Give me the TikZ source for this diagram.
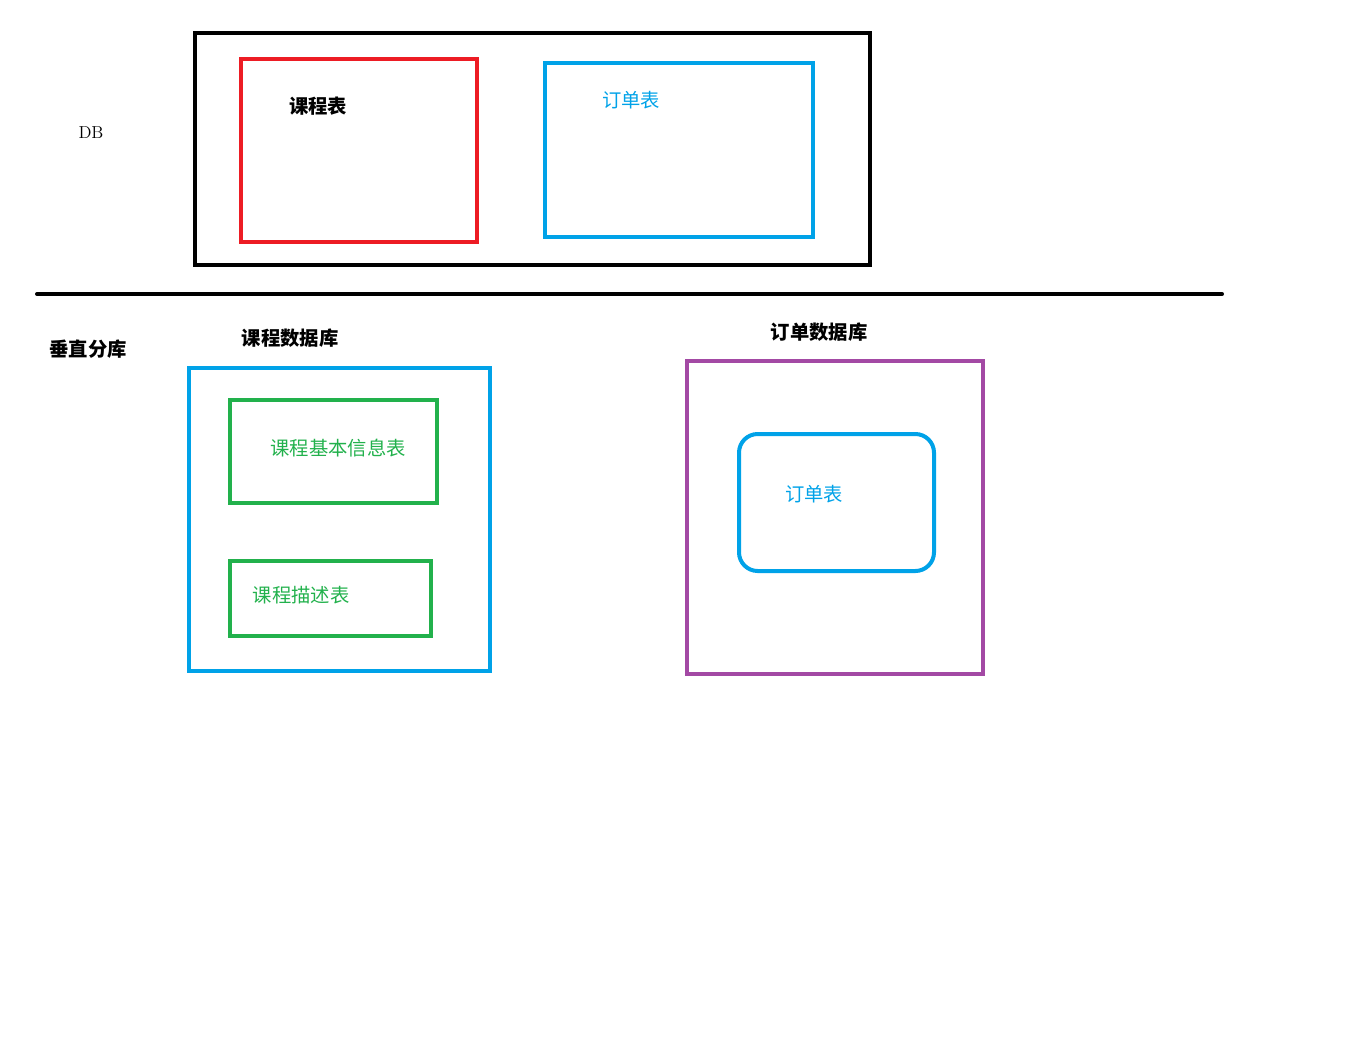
\documentclass[tikz,border=0pt]{standalone}
\usepackage{fontspec}
\newfontfamily\cjk{Noto Sans CJK SC}
\definecolor{pred}{RGB}{237,28,36}
\definecolor{pblue}{RGB}{0,162,232}
\definecolor{pgreen}{RGB}{34,177,76}
\definecolor{ppurple}{RGB}{163,73,164}
\tikzset{
  box/.style={line width=3pt},
  lbl/.style={font=\cjk\fontsize{14.5}{16}\selectfont},
  blbl/.style={font=\cjk\bfseries\fontsize{14.5}{16}\selectfont},
}
\begin{document}
\begin{tikzpicture}[x=0.75pt,y=-0.75pt]
      \useasboundingbox (0,0) rectangle (1351,1060);

      % top: one database
      \draw[box] (195,33) rectangle (870,265);
      \draw[box,pred] (241,59) rectangle (477,242);
      \draw[box,pblue] (545,63) rectangle (813,237);

      \draw[box,line cap=round] (37,294) -- (1222,294);

      % bottom: split by business
      \draw[box,pblue] (189,368) rectangle (490,671);
      \draw[box,pgreen] (230,400) rectangle (437,503);
      \draw[box,pgreen] (230,561) rectangle (431,636);
      \draw[box,ppurple] (687,361) rectangle (983,674);
      \draw[box,pblue,rounded corners=14pt] (739,434) rectangle (934,571);

      \node[font=\fontsize{13}{15}\selectfont] (db) at (91,133) {DB};
      \node[blbl] (kcb) at (318,106) {课程表};
      \node[lbl,pblue] (ddb) at (631,100) {订单表};
      \node[blbl] (czfk) at (88,349) {垂直分库};
      \node[blbl] (kcsjk) at (290,338) {课程数据库};
      \node[blbl] (ddsjk) at (819,332) {订单数据库};
      \node[lbl,pgreen] (jbxx) at (338,448) {课程基本信息表};
      \node[lbl,pgreen] (ms) at (301,595) {课程描述表};
      \node[lbl,pblue] (dd2) at (814,494) {订单表};
    \end{tikzpicture}
\end{document}
